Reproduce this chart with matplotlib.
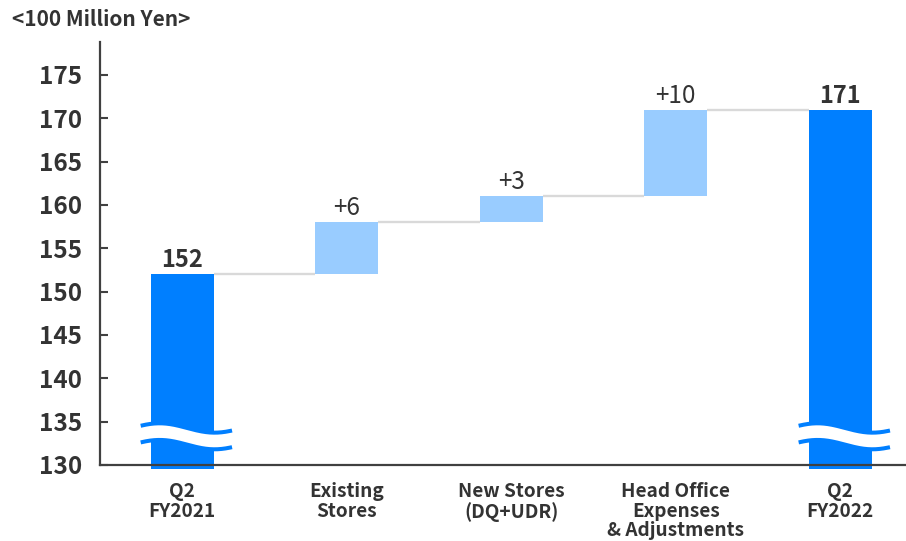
import matplotlib
matplotlib.use("Agg")
import matplotlib.pyplot as plt
import numpy as np

# ---- data ----
categories = ["Q2\nFY2021", "Existing\nStores", "New Stores\n(DQ+UDR)",
              "Head Office\nExpenses\n& Adjustments", "Q2\nFY2022"]
start_total = 152
changes = [6, 3, 10]
end_total = 171
value_labels = ["152", "+6", "+3", "+10", "171"]
y_ticks = [130, 135, 140, 145, 150, 155, 160, 165, 170, 175]
unit_label = "<100 Million Yen>"

plt.rcParams['font.family'] = ['Noto Sans CJK JP', 'DejaVu Sans']

DARK = "#007FFF"
LIGHT = "#99CCFF"
TEXT = "#333333"
SPINE = "#404040"
CONNECT = "#D9D9D9"

fig = plt.figure(figsize=(9.06, 5.41), dpi=100)
ax = fig.add_axes([0.1104, 0.1405, 0.8896, 0.7819])

y_min, y_max = 130, 178.8
ax.set_ylim(y_min, y_max)
ax.set_xlim(-0.5, 4.4)

width = 0.383
x = np.arange(len(categories))
floor = y_min - 0.45  # totals run a touch below the axis line

# waterfall geometry
levels = [start_total]
for c in changes:
    levels.append(levels[-1] + c)
bottoms = [floor] + levels[:-1] + [floor]
tops = levels + [end_total]
heights = [t - b for t, b in zip(tops, bottoms)]
colors = [DARK] + [LIGHT] * len(changes) + [DARK]

ax.bar(x, heights, bottom=bottoms, width=width, color=colors,
       clip_on=False, zorder=1)

# connectors between consecutive bars
for i in range(len(x) - 1):
    ax.plot([x[i] + width / 2, x[i + 1] - width / 2], [tops[i], tops[i]],
            color=CONNECT, lw=1.7, zorder=1, solid_capstyle='butt')

# value labels
for i, lab in enumerate(value_labels):
    total = i in (0, len(x) - 1)
    ax.annotate(lab, (x[i], tops[i]), xytext=(0, 5), textcoords="offset points",
                ha="center", va="baseline", color=TEXT,
                fontsize=17 if total else 17.5,
                fontweight="bold" if total else "normal")

# axis-break waves on the total bars
P = 0.669
amp = 0.54
for i in (0, len(x) - 1):
    xs = np.linspace(x[i] - 0.66 * width, x[i] + 0.79 * width, 300)
    wave = amp * np.cos(2 * np.pi * (xs - (x[i] - 0.36 * width)) / P)
    y_up = 134.27 + wave
    y_lo = 132.35 + wave
    ax.fill_between(xs, y_lo, y_up, color="white", lw=0, zorder=1.5, clip_on=False)
    ax.plot(xs, y_up, color=DARK, lw=2.9, zorder=1.6, clip_on=False,
            solid_capstyle='butt')
    ax.plot(xs, y_lo, color=DARK, lw=2.9, zorder=1.6, clip_on=False,
            solid_capstyle='butt')

# axes styling
for s in ("top", "right"):
    ax.spines[s].set_visible(False)
for s in ("left", "bottom"):
    ax.spines[s].set_color(SPINE)
    ax.spines[s].set_linewidth(1.6)
    ax.spines[s].set_zorder(3)

ax.set_yticks(y_ticks)
ax.set_yticklabels([str(t) for t in y_ticks])
ax.tick_params(axis="y", direction="in", length=5.5, width=1.5, color=SPINE,
               labelcolor=TEXT, labelsize=17.5, pad=13)
for t in ax.get_yticklabels():
    t.set_fontweight("bold")

ax.set_xticks(x)
ax.set_xticklabels(categories, linespacing=1.06)
ax.tick_params(axis="x", length=0, labelcolor=TEXT, labelsize=13.7, pad=12)
for t in ax.get_xticklabels():
    t.set_fontweight("bold")

fig.text(12 / 906, 1 - 20 / 541, unit_label, ha="left", va="center",
         fontsize=15, fontweight="bold", color=TEXT)

fig.savefig("out.png", dpi=100)
